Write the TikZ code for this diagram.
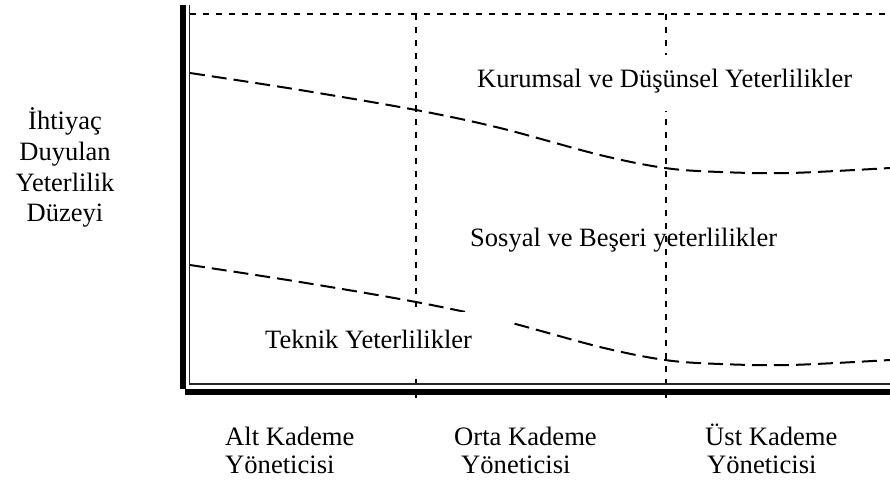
\documentclass[tikz,border=0pt]{standalone}
\usepackage{fontspec}
\setmainfont{Liberation Serif}
\begin{document}
\begin{tikzpicture}[x=1pt,y=-1pt,
  lbl/.style={inner sep=0pt, font=\fontsize{26.5}{30}\selectfont},
  xlbl/.style={inner sep=0pt, anchor=base west, font=\fontsize{26.6}{29}\selectfont},
  gridline/.style={line width=2pt, dash pattern=on 6pt off 7pt},
  curveline/.style={line width=2pt, dash pattern=on 15pt off 7pt},
  thinaxis/.style={line width=1.8pt, draw=black!85},
  masking/.style={fill=white, draw=none}]
\useasboundingbox (0,0) rectangle (890,484);

% coordinates
\coordinate (topL) at (190,14.5);
\coordinate (topR) at (890,14.5);
\coordinate (v1t) at (416,14.5);
\coordinate (v1b) at (416,398);
\coordinate (v2t) at (665.5,14.5);
\coordinate (v2b) at (665.5,398);
\coordinate (thinTop) at (189.5,5);
\coordinate (thinCorner) at (189.5,384);
\coordinate (thinRight) at (890,384);

% guide lines
\draw[gridline] (topL) -- (topR);
\draw[gridline] (v1t) -- (v1b);
\draw[gridline] (v2t) -- (v2b);

% curves
\draw[curveline] plot[smooth, tension=0.55] coordinates
  {(190,73) (300,90) (416,110) (500,128) (600,155) (665,168) (720,172) (790,173) (890,168)};
\draw[curveline] plot[smooth, tension=0.55] coordinates
  {(190,265) (300,282) (416,302) (500,320) (600,347) (665,360) (720,364) (790,365) (890,360)};

% white text backgrounds
\fill[masking] (470,55) rectangle (862,111);
\fill[masking] (258,312) rectangle (512,372);

% axes
\fill[black] (179.5,5) rectangle (186,389);
\fill[black] (185,389) rectangle (890,395);
\draw[thinaxis] (thinTop) -- (thinCorner) -- (thinRight);

% region labels
\node[lbl, anchor=base west] (kur) at (477,88) {Kurumsal ve Düşünsel Yeterlilikler};
\node[lbl, anchor=base west] (sos) at (470,246) {Sosyal ve Beşeri yeterlilikler};
\node[lbl, anchor=base west] (tek) at (265,348) {Teknik Yeterlilikler};

% y-axis label
\node[lbl, anchor=base] (y1) at (65,129) {İhtiyaç};
\node[lbl, anchor=base] (y2) at (65,160) {Duyulan};
\node[lbl, anchor=base] (y3) at (65,191) {Yeterlilik};
\node[lbl, anchor=base] (y4) at (65,221) {Düzeyi};

% x-axis labels
\node[xlbl] (a1) at (225,445) {Alt Kademe};
\node[xlbl] (a2) at (225,473) {Yöneticisi};
\node[xlbl] (o1) at (454,445) {Orta Kademe};
\node[xlbl] (o2) at (461,473) {Yöneticisi};
\node[xlbl] (u1) at (705,445) {Üst Kademe};
\node[xlbl] (u2) at (707,473) {Yöneticisi};
\end{tikzpicture}
\end{document}
